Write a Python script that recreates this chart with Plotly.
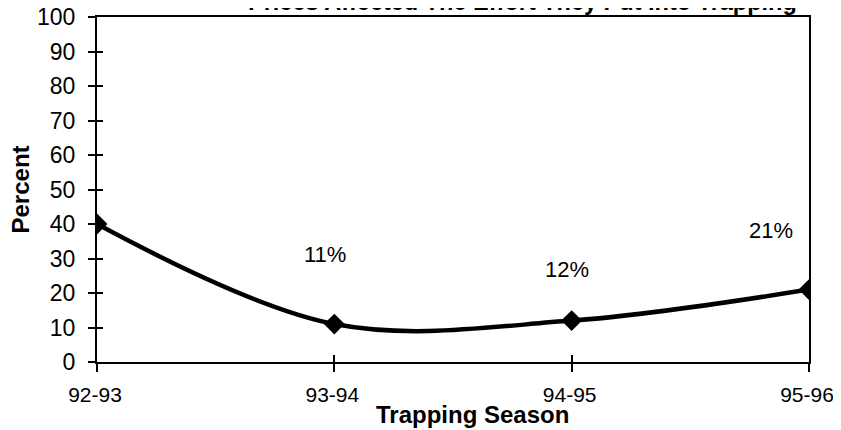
import plotly.graph_objects as go

seasons = ["92-93", "93-94", "94-95", "95-96"]
percent = [40, 11, 12, 21]
label_text = ["", "11%", "12%", "21%"]
label_yshift = [0, 70, 51, 59]
label_xshift = [0, -9, -5, -38]

FONT = "Liberation Sans, Arial, sans-serif"

fig = go.Figure()
fig.add_trace(go.Scatter(
    x=seasons, y=percent, mode="lines+markers",
    line=dict(color="black", width=4.5, shape="spline", smoothing=1.0),
    marker=dict(symbol="diamond", size=16, color="black"),
    showlegend=False, hoverinfo="skip",
))
# helper trace for the overlaid axes that draw the inner half of crossing ticks
fig.add_trace(go.Scatter(
    x=seasons, y=percent, mode="lines", xaxis="x2", yaxis="y2",
    line=dict(width=0, color="rgba(0,0,0,0)"), showlegend=False, hoverinfo="skip",
))

annotations = []
for s, v, t, ys, xs in zip(seasons, percent, label_text, label_yshift, label_xshift):
    if t:
        annotations.append(dict(x=s, y=v, text=t, showarrow=False, yshift=ys, xshift=xs,
                                font=dict(family=FONT, size=22, color="black")))

annotations.append(dict(text="<b>Prices Affected The Effort They Put Into Trapping</b>",
                        xref="paper", yref="paper", x=0.598, y=1, xanchor="center",
                        yanchor="bottom", yshift=0, showarrow=False,
                        font=dict(family=FONT, size=23.5, color="black")))
annotations.append(dict(text="<b>Trapping Season</b>", xref="paper", yref="paper",
                        x=0.527, y=0, xanchor="center", yanchor="middle", yshift=-52,
                        showarrow=False, font=dict(family=FONT, size=24, color="black")))
annotations.append(dict(text="<b>Percent</b>", xref="paper", yref="paper",
                        x=0, y=0.5, xanchor="center", yanchor="middle", xshift=-77,
                        textangle=-90, showarrow=False,
                        font=dict(family=FONT, size=24, color="black")))

fig.update_layout(
    width=833, height=422,
    margin=dict(l=89, r=32, t=9, b=68),
    paper_bgcolor="white", plot_bgcolor="white",
    font=dict(family=FONT, size=22, color="black"),
    annotations=annotations,
    xaxis=dict(type="category", range=[0, 3], showgrid=False, zeroline=False,
               showline=True, linecolor="black", linewidth=2, mirror=True,
               ticks="outside", ticklen=8, tickwidth=1.5, tickcolor="black",
               ticklabelstandoff=5, ticklabelshift=-2, automargin=False,
               ticklabeloverflow="allow", tickfont=dict(family=FONT, size=21)),
    yaxis=dict(range=[0, 100], dtick=10, showgrid=False, zeroline=False,
               showline=True, linecolor="black", linewidth=2, mirror=True,
               ticks="outside", ticklen=7, tickwidth=1.5, tickcolor="black",
               ticklabelstandoff=8, automargin=False, ticklabeloverflow="allow",
               tickfont=dict(family=FONT, size=23)),
    xaxis2=dict(type="category", range=[0, 3], overlaying="x", anchor="y",
                showgrid=False, zeroline=False, showline=False, showticklabels=False,
                ticks="inside", ticklen=7, tickwidth=1.5, tickcolor="black", automargin=False),
    yaxis2=dict(range=[0, 100], dtick=10, overlaying="y", anchor="x", side="left",
                showgrid=False, zeroline=False, showline=False, showticklabels=False,
                ticks="inside", ticklen=6, tickwidth=1.5, tickcolor="black", automargin=False),
)

fig.write_html("out.html")
